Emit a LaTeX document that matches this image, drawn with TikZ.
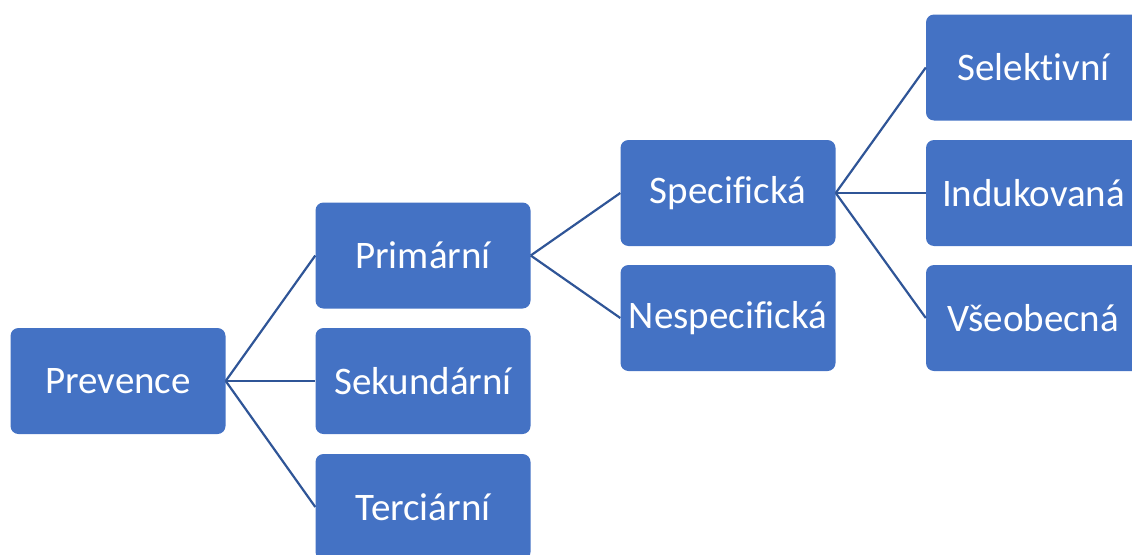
\documentclass[tikz,border=0pt]{standalone}
\usepackage{fontspec}
\setmainfont{Carlito}[RawFeature={-liga;-dlig;-clig;-calt;-hlig;-rlig}]
\usepackage{tikz}
\usetikzlibrary{positioning}
\definecolor{boxblue}{RGB}{68,114,196}
\definecolor{lineblue}{RGB}{47,85,151}

\begin{document}
\begin{tikzpicture}[x=1pt,y=-1pt,
		box/.style={fill=boxblue,rounded corners=8pt,minimum width=215pt,
			minimum height=106pt,inner sep=0pt,text=white,font=\fontsize{39}{44}\selectfont},
		link/.style={draw=lineblue,line width=2.2pt}]
		\clip (0,0) rectangle (1132,554);
		\node[box] (prev) at (118,381) {Prevence};
		\node[box] (prim) at (423,255.5) {Primární};
		\node[box] (sek) at (423,381) {Sekundární};
		\node[box] (terc) at (423,507) {Terciární};
		\node[box] (spec) at (728,193) {Specifická};
		\node[box] (nespec) at (728,318) {Nespecifická};
		\node[box] (sel) at (1033.5,67.5) {Selektivní};
		\node[box] (ind) at (1033.5,193) {Indukovaná};
		\node[box] (vseob) at (1033.5,318) {Všeobecná};
		\draw[link] (prev.east) -- (prim.west);
		\draw[link] (prev.east) -- (sek.west);
		\draw[link] (prev.east) -- (terc.west);
		\draw[link] (prim.east) -- (spec.west);
		\draw[link] (prim.east) -- (nespec.west);
		\draw[link] (spec.east) -- (sel.west);
		\draw[link] (spec.east) -- (ind.west);
		\draw[link] (spec.east) -- (vseob.west);
\end{tikzpicture}
\end{document}
